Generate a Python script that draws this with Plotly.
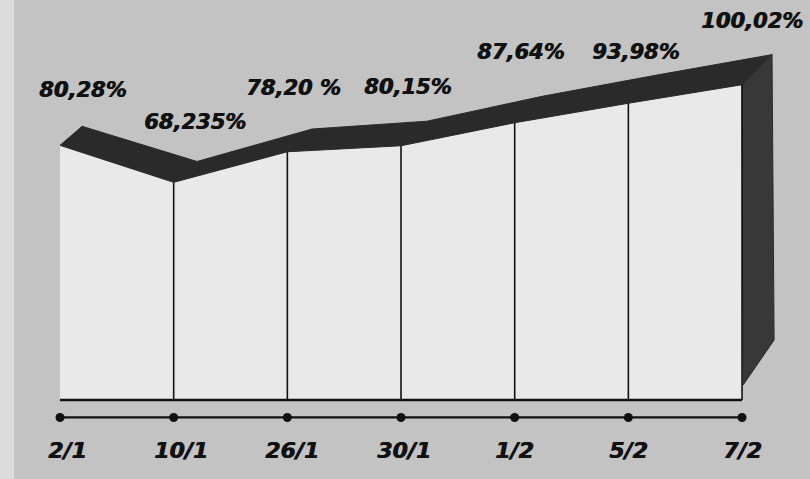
import plotly.graph_objects as go

# ---- data ----
dates = ["2/1", "10/1", "26/1", "30/1", "1/2", "5/2", "7/2"]
values = [80.28, 68.235, 78.20, 80.15, 87.64, 93.98, 100.02]
value_labels = ["80,28%", "68,235%", "78,20 %", "80,15%", "87,64%", "93,98%", "100,02%"]

# ---- style constants ----
BASE = -2.6        # bottom of front face (value units)
DOT_Y = -8.3       # row of dots
CAT_Y = -19.2      # date labels row
BG = "#c3c3c3"
FACE = "#e9e9e9"
DARK = "#2a2a2a"
SIDE = "#383838"
FONT = "DejaVu Sans, Verdana, sans-serif"
THICK = "0.8px 0px 0px #111111"

lab_xshift = [22, 21, 6, 6, 6, 7, 10]
lab_yshift = [55, 60, 64, 59, 71, 51, 64]
cat_xshift = [7, 7, 5, 3, 0, 0, 0]

n = len(values)
xs = list(range(n))
dx = [0.194 + (0.264 - 0.194) * i / (n - 1) for i in xs]
dy = [6.2 + (9.8 - 6.2) * i / (n - 1) for i in xs]

fig = go.Figure()

# front white face
fig.add_trace(go.Scatter(
    x=[xs[0]] + xs + [xs[-1], xs[0]],
    y=[BASE] + values + [BASE, BASE],
    fill="toself", fillcolor=FACE, mode="lines",
    line=dict(color=FACE, width=0), hoverinfo="skip", showlegend=False))

# dark top band (extrusion)
bx = [x + d for x, d in zip(xs, dx)]
by = [v + d for v, d in zip(values, dy)]
fig.add_trace(go.Scatter(
    x=xs + bx[::-1] + [xs[0]],
    y=values + by[::-1] + [values[0]],
    fill="toself", fillcolor=DARK, mode="lines",
    line=dict(color=DARK, width=1), hoverinfo="skip", showlegend=False))

# right side face
last = n - 1
fig.add_trace(go.Scatter(
    x=[xs[last], bx[last], bx[last] + 0.018, xs[last] + 0.01, xs[last]],
    y=[values[last], by[last], 16.9, 2.3, values[last]],
    fill="toself", fillcolor=SIDE, mode="lines",
    line=dict(color=DARK, width=1), hoverinfo="skip", showlegend=False))

# vertical dividers
for i in xs[1:]:
    fig.add_trace(go.Scatter(
        x=[i, i], y=[BASE, values[i]], mode="lines",
        line=dict(color="#111111", width=1.6), hoverinfo="skip", showlegend=False))

# baseline
fig.add_trace(go.Scatter(
    x=[xs[0], xs[-1]], y=[BASE, BASE], mode="lines",
    line=dict(color="#111111", width=2.6), hoverinfo="skip", showlegend=False))

# dot row
fig.add_trace(go.Scatter(
    x=xs, y=[DOT_Y] * n, mode="lines+markers",
    line=dict(color="#111111", width=2.2),
    marker=dict(color="#111111", size=9),
    hoverinfo="skip", showlegend=False))

# value labels
for i in xs:
    fig.add_annotation(
        x=i, y=values[i], text=value_labels[i], showarrow=False,
        xshift=lab_xshift[i], yshift=lab_yshift[i],
        xanchor="center", yanchor="middle",
        font=dict(family=FONT, size=21, color="#111111", weight="bold",
                  style="italic", shadow=THICK))

# date labels
for i in xs:
    fig.add_annotation(
        x=i, y=CAT_Y, text=dates[i], showarrow=False,
        xshift=cat_xshift[i], xanchor="center", yanchor="middle",
        font=dict(family=FONT, size=22, color="#111111", weight="bold",
                  style="italic", shadow=THICK))

fig.update_layout(
    width=810, height=479,
    margin=dict(l=0, r=0, t=0, b=0),
    paper_bgcolor=BG, plot_bgcolor=BG,
    xaxis=dict(range=[-0.528, 6.598], visible=False, fixedrange=True),
    yaxis=dict(range=[-28.33, 127.6], visible=False, fixedrange=True),
    shapes=[dict(type="rect", xref="paper", yref="paper", x0=0, x1=14 / 810,
                 y0=0, y1=1, fillcolor="#dcdcdc", line=dict(width=0), layer="below")],
)

fig.write_html("out.html")
